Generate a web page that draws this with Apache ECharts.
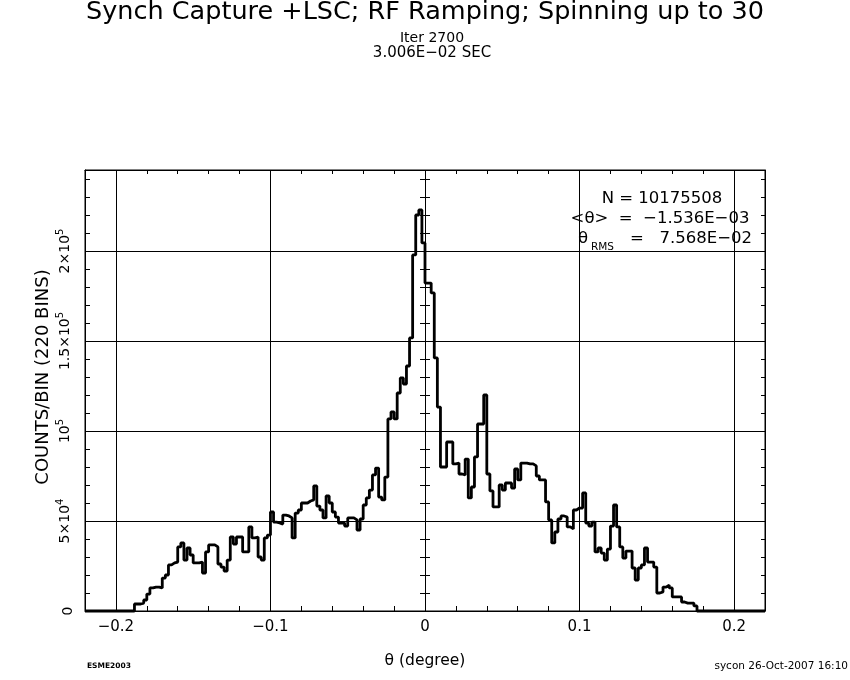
<!DOCTYPE html>
<html>
<head>
<meta charset="utf-8">
<title>Synch Capture +LSC</title>
<script src="https://cdn.jsdelivr.net/npm/echarts@6/dist/echarts.min.js"></script>
<style>
  html, body { margin: 0; padding: 0; background: #fff; }
  #chart { width: 850px; height: 680px; }
</style>
</head>
<body>
<div id="chart"></div>
<script>
// 220 bins between -0.22 and 0.22 degree
var binStart = -0.22;
var binWidth = 0.002;
var counts = [
  0, 0, 0, 0, 0, 0, 0, 0, 0, 0, 0, 0, 0, 0, 0, 0,
  3900, 3900, 4400, 6100, 9400, 12800, 13300, 13300, 12800, 18300, 20000, 25600, 26700, 27200,
  35600, 37800, 28300, 35000, 31100, 26700, 26700, 27200, 21100, 32800,
  36700, 36700, 35600, 26100, 24400, 22200, 28300, 41100, 37200, 41100,
  41100, 32800, 32800, 46700, 40600, 41100, 30000, 28300, 40600, 42200,
  55000, 49400, 48900, 48300, 53300, 52800, 51700, 40600, 54400, 56100,
  60000, 60000, 61100, 61700, 69500, 58300, 56100, 51700, 63900, 60000,
  55000, 52200, 48900, 48900, 47200, 51700, 51700, 50600, 45000, 51100,
  58900, 62800, 67200, 75600, 79400, 63300, 61700, 74400, 106700, 110600,
  106700, 121100, 129500, 126100, 136100, 151700, 197800, 220000, 222800, 204500,
  182200, 182200, 176700, 140600, 113300, 80000, 80000, 93900, 93900, 81700,
  82200, 76100, 75600, 84400, 62800, 68900, 85600, 103900, 103900, 120000,
  76100, 66700, 57800, 57800, 70000, 67200, 71100, 71100, 68300, 78900,
  72800, 82200, 82200, 81700, 81700, 80600, 75000, 72800, 72800, 60600,
  50600, 37800, 43900, 51100, 52800, 52200, 46700, 45600, 56100, 57200,
  57200, 65600, 48900, 47200, 49400, 32800, 35000, 32200, 28300, 34400,
  47200, 58900, 46700, 35600, 29400, 33300, 33300, 23900, 17200, 23900,
  25600, 35000, 27200, 27200, 24400, 10000, 10600, 13300, 14400, 12800,
  7800, 7800, 7800, 5000, 4400, 4400, 4400, 2800, 0, 0,
  0, 0, 0, 0, 0, 0, 0, 0, 0, 0, 0, 0, 0, 0, 0, 0, 0, 0, 0, 0
];

var xGridVals = [-0.2, -0.1, 0, 0.1, 0.2];
var xTickLabels = ['−0.2', '−0.1', '0', '0.1', '0.2'];
var yGridVals = [50000, 100000, 150000, 200000];
var yLabelVals = [0, 50000, 100000, 150000, 200000];
var yTickLabels = ['0', '5×10{s|4}', '10{s|5}', '1.5×10{s|5}', '2×10{s|5}'];

var FONT = 'DejaVu Sans';

// step points at left bin edges, plus the closing right edge
var points = counts.map(function (c, i) {
  return [+(binStart + i * binWidth).toFixed(4), c];
});
points.push([+(binStart + counts.length * binWidth).toFixed(4), counts[counts.length - 1]]);

function findLabel(vals, labels, v) {
  for (var i = 0; i < vals.length; i++) {
    if (Math.abs(vals[i] - v) < 1e-6) return labels[i];
  }
  return '';
}

var chart = echarts.init(document.getElementById('chart'));

var tickStyle = { color: '#000', width: 1 };

var option = {
  animation: false,
  backgroundColor: '#fff',
  textStyle: { fontFamily: FONT, color: '#000' },
  grid: {
    left: 85, right: 85, top: 170, bottom: 69,
    show: true, borderColor: '#000', borderWidth: 1
  },
  xAxis: [
    {
      type: 'value', position: 'bottom',
      min: -0.22, max: 0.22, interval: 0.02,
      axisLine: { onZero: false, lineStyle: { color: '#000' } },
      axisTick: { inside: true, length: 5, lineStyle: tickStyle },
      splitLine: { show: false },
      axisLabel: {
        margin: 9, fontSize: 15, color: '#000', fontFamily: FONT,
        formatter: function (v) { return findLabel(xGridVals, xTickLabels, v); }
      }
    },
    {
      type: 'value', position: 'top',
      min: -0.22, max: 0.22, interval: 0.02,
      axisLine: { onZero: false, lineStyle: { color: '#000' } },
      axisTick: { inside: true, length: 4, lineStyle: tickStyle },
      splitLine: { show: false },
      axisLabel: { show: false }
    }
  ],
  yAxis: [
    {
      type: 'value', position: 'left',
      min: 0, max: 245000, interval: 10000,
      axisLine: { onZero: false, lineStyle: { color: '#000' } },
      axisTick: { inside: true, length: 5, lineStyle: tickStyle },
      splitLine: { show: false },
      axisLabel: {
        rotate: 90, margin: 10, fontSize: 14, color: '#000', fontFamily: FONT,
        formatter: function (v) { return findLabel(yLabelVals, yTickLabels, v); },
        rich: { s: { fontSize: 10, fontFamily: FONT, color: '#000', padding: [0, 0, 10, 0] } }
      }
    },
    {
      type: 'value', position: 'right',
      min: 0, max: 245000, interval: 10000,
      axisLine: { onZero: false, lineStyle: { color: '#000' } },
      axisTick: { inside: true, length: 4, lineStyle: tickStyle },
      splitLine: { show: false },
      axisLabel: { show: false }
    },
    // ticks crossing the theta = 0 line
    {
      type: 'value', position: 'left',
      min: 0, max: 245000, interval: 10000,
      axisLine: { show: false, onZero: true, onZeroAxisIndex: 0 },
      axisTick: { inside: true, length: 5, lineStyle: tickStyle },
      splitLine: { show: false },
      axisLabel: { show: false }
    },
    {
      type: 'value', position: 'left',
      min: 0, max: 245000, interval: 10000,
      axisLine: { show: false, onZero: true, onZeroAxisIndex: 0 },
      axisTick: { inside: false, length: 5, lineStyle: tickStyle },
      splitLine: { show: false },
      axisLabel: { show: false }
    }
  ],
  series: [
    {
      type: 'line',
      step: 'end',
      xAxisIndex: 0,
      yAxisIndex: 0,
      data: points,
      showSymbol: false,
      clip: false,
      lineStyle: { color: '#000', width: 2.8 },
      markLine: {
        silent: true,
        symbol: ['none', 'none'],
        label: { show: false },
        lineStyle: { color: '#000', width: 1, type: 'solid' },
        data: xGridVals.map(function (v) { return { xAxis: v }; })
          .concat(yGridVals.map(function (v) { return { yAxis: v }; }))
      }
    }
  ],
  graphic: [
    { type: 'text', x: 425, y: 12,
      style: { text: 'Synch Capture +LSC; RF Ramping; Spinning up to 30', font: '25.5px "DejaVu Sans"', fill: '#000', align: 'center', verticalAlign: 'middle' } },
    { type: 'text', x: 432, y: 38,
      style: { text: 'Iter 2700', font: '14px "DejaVu Sans"', fill: '#000', align: 'center', verticalAlign: 'middle' } },
    { type: 'text', x: 432, y: 53,
      style: { text: '3.006E−02 SEC', font: '15px "DejaVu Sans"', fill: '#000', align: 'center', verticalAlign: 'middle' } },
    { type: 'text', x: 662, y: 199,
      style: { text: 'N = 10175508', font: '16.5px "DejaVu Sans"', fill: '#000', align: 'center', verticalAlign: 'middle' } },
    { type: 'text', x: 660, y: 219,
      style: { text: '<θ>  =  −1.536E−03', font: '16.5px "DejaVu Sans"', fill: '#000', align: 'center', verticalAlign: 'middle' } },
    { type: 'text', x: 578, y: 239,
      style: { text: 'θ', font: '16.5px "DejaVu Sans"', fill: '#000', align: 'left', verticalAlign: 'middle' } },
    { type: 'text', x: 591, y: 247,
      style: { text: 'RMS', font: '10.5px "DejaVu Sans"', fill: '#000', align: 'left', verticalAlign: 'middle' } },
    { type: 'text', x: 752, y: 239,
      style: { text: '=   7.568E−02', font: '16.5px "DejaVu Sans"', fill: '#000', align: 'right', verticalAlign: 'middle' } },
    { type: 'text', x: 425, y: 661,
      style: { text: 'θ (degree)', font: '15.5px "DejaVu Sans"', fill: '#000', align: 'center', verticalAlign: 'middle' } },
    { type: 'text', x: 43, y: 377, rotation: Math.PI / 2,
      style: { text: 'COUNTS/BIN (220 BINS)', font: '18px "DejaVu Sans"', fill: '#000', align: 'center', verticalAlign: 'middle' } },
    { type: 'text', x: 87, y: 666,
      style: { text: 'ESME2003', font: 'bold 7.5px "DejaVu Sans"', fill: '#000', align: 'left', verticalAlign: 'middle' } },
    { type: 'text', x: 848, y: 666,
      style: { text: 'sycon 26-Oct-2007 16:10', font: '10.5px "DejaVu Sans"', fill: '#000', align: 'right', verticalAlign: 'middle' } }
  ]
};

chart.setOption(option);
</script>
</body>
</html>
